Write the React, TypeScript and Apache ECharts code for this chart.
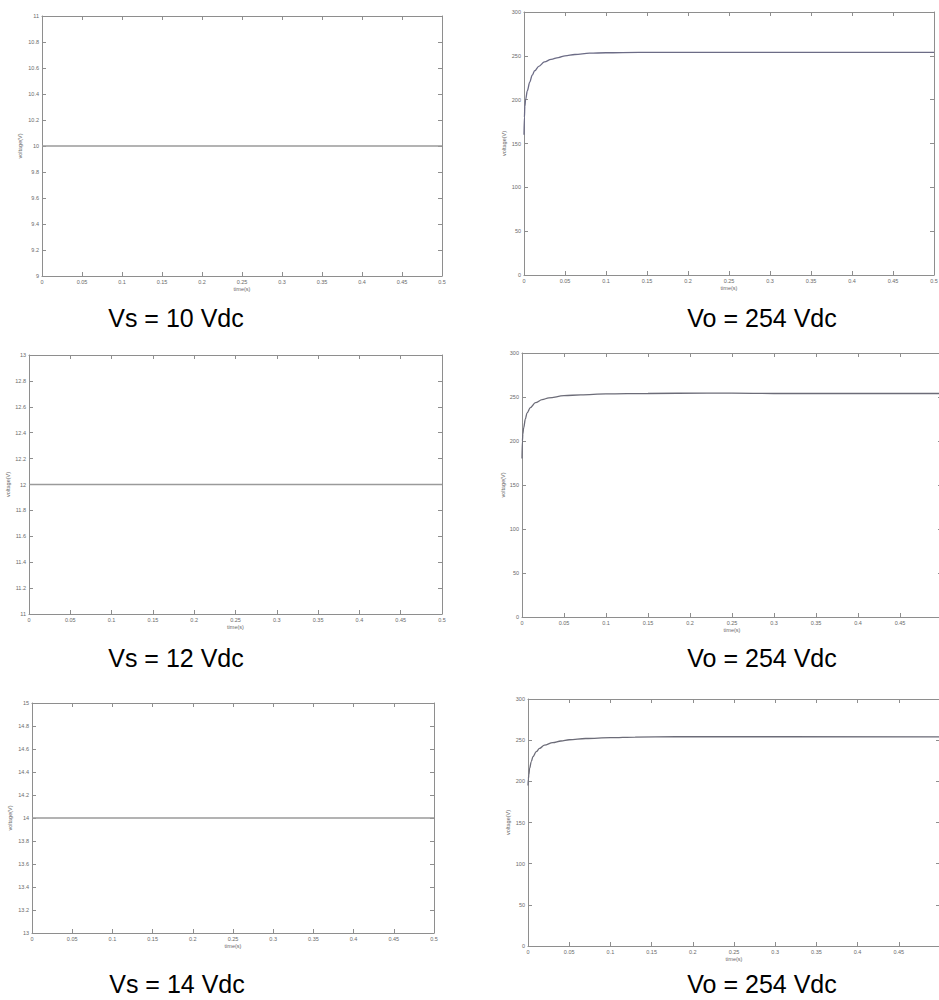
import React, { useEffect, useRef } from "react";
import * as echarts from "echarts";

// ---------- data ----------
const flatTime = [0, 0.5];
const vs10 = [10, 10];
const vs12 = [12, 12];
const vs14 = [14, 14];

const voTime1 = [0, 0.0005, 0.001, 0.002, 0.004, 0.007, 0.01, 0.013, 0.018, 0.025, 0.033, 0.042, 0.05, 0.062, 0.08, 0.1, 0.14, 0.5];
const vo1 = [160, 180, 192, 200, 210, 220, 228, 233, 238, 243, 246, 248, 250, 251.5, 253, 253.5, 254, 254];

const voTime2 = [0, 0.0005, 0.001, 0.002, 0.004, 0.006, 0.01, 0.016, 0.024, 0.032, 0.05, 0.07, 0.1, 0.15, 0.22, 0.25, 0.3, 0.5];
const vo2 = [180, 200, 208, 215, 225, 232, 238, 243.5, 247, 249, 251.5, 252.5, 253.5, 254, 254.5, 254.3, 254, 254];

const voTime3 = [0, 0.0005, 0.001, 0.002, 0.004, 0.006, 0.01, 0.014, 0.02, 0.03, 0.04, 0.05, 0.07, 0.1, 0.13, 0.18, 0.5];
const vo3 = [195, 203, 208, 216, 224, 230, 236, 240, 244, 247, 249, 250.5, 252, 253, 253.8, 254.2, 254];

const captions = ["Vs = 10 Vdc", "Vo = 254 Vdc", "Vs = 12 Vdc", "Vo = 254 Vdc", "Vs = 14 Vdc", "Vo = 254 Vdc"];
const xLabelName = "time(s)";
const yLabelName = "voltage(V)";

// ---------- layout ----------
const panels = [
  { left: 42, top: 16, width: 400, height: 260, min: 9, max: 11, interval: 0.2, yGap: 19, xGap: 8, t: flatTime, v: vs10, cx: 176, cy: 318, color: "#9a9a9a", lw: 1.6, maxLabel: true },
  { left: 524, top: 12, width: 410, height: 263, min: 0, max: 300, interval: 50, yGap: 17, xGap: 9, t: voTime1, v: vo1, cx: 762, cy: 318, color: "#6c6c86", lw: 1.3, maxLabel: true },
  { left: 29, top: 355, width: 413, height: 259, min: 11, max: 13, interval: 0.2, yGap: 17, xGap: 9, t: flatTime, v: vs12, cx: 176, cy: 658, color: "#9a9a9a", lw: 1.6, maxLabel: true },
  { left: 522, top: 353, width: 420, height: 264, min: 0, max: 300, interval: 50, yGap: 15, xGap: 10, t: voTime2, v: vo2, cx: 762, cy: 658, color: "#6c6c78", lw: 1.3, maxLabel: false },
  { left: 32, top: 703, width: 402, height: 230, min: 13, max: 15, interval: 0.2, yGap: 19, xGap: 9, t: flatTime, v: vs14, cx: 177, cy: 984, color: "#9a9a9a", lw: 1.6, maxLabel: true },
  { left: 528, top: 699, width: 412, height: 247, min: 0, max: 300, interval: 50, yGap: 17, xGap: 9, t: voTime3, v: vo3, cx: 762, cy: 984, color: "#6c6c78", lw: 1.3, maxLabel: false },
];

const FONT = "'Liberation Sans', Arial, sans-serif";
const BOX = "#8e8e8e";
const LABEL = "#6a6a6a";

function buildOption() {
  const grid: any[] = [];
  const xAxis: any[] = [];
  const yAxis: any[] = [];
  const series: any[] = [];
  const graphic: any[] = [];

  panels.forEach((p, i) => {
    grid.push({ left: p.left, top: p.top, width: p.width, height: p.height, containLabel: false });
    const tickCommon = { show: true, inside: true, length: 4, lineStyle: { color: BOX, width: 1 } };
    xAxis.push({
      type: "value", gridIndex: i, position: "bottom", min: 0, max: 0.5, interval: 0.05,
      axisLine: { show: true, onZero: false, lineStyle: { color: BOX, width: 1 } },
      axisTick: tickCommon,
      axisLabel: { show: true, fontSize: 5.5, color: LABEL, margin: 3, fontFamily: FONT, hideOverlap: false, showMinLabel: true, showMaxLabel: p.maxLabel },
      splitLine: { show: false },
      name: xLabelName, nameLocation: "middle", nameGap: p.xGap,
      nameTextStyle: { fontSize: 5.5, color: LABEL, fontFamily: FONT },
    });
    xAxis.push({
      type: "value", gridIndex: i, position: "top", min: 0, max: 0.5, interval: 0.05,
      axisLine: { show: true, onZero: false, lineStyle: { color: BOX, width: 1 } },
      axisTick: tickCommon,
      axisLabel: { show: false },
      splitLine: { show: false },
    });
    yAxis.push({
      type: "value", gridIndex: i, position: "left", min: p.min, max: p.max, interval: p.interval,
      axisLine: { show: true, onZero: false, lineStyle: { color: BOX, width: 1 } },
      axisTick: tickCommon,
      axisLabel: { show: true, fontSize: 5.5, color: LABEL, margin: 3, fontFamily: FONT, showMinLabel: true, showMaxLabel: true },
      splitLine: { show: false },
      name: yLabelName, nameLocation: "middle", nameGap: p.yGap,
      nameTextStyle: { fontSize: 5.5, color: LABEL, fontFamily: FONT },
    });
    yAxis.push({
      type: "value", gridIndex: i, position: "right", min: p.min, max: p.max, interval: p.interval,
      axisLine: { show: true, onZero: false, lineStyle: { color: BOX, width: 1 } },
      axisTick: tickCommon,
      axisLabel: { show: false },
      splitLine: { show: false },
    });
    series.push({
      type: "line",
      xAxisIndex: 2 * i,
      yAxisIndex: 2 * i,
      data: p.t.map((t, k) => [t, p.v[k]]),
      showSymbol: false,
      symbol: "none",
      smooth: p.t.length > 2 ? 0.35 : false,
      smoothMonotone: "x",
      lineStyle: { color: p.color, width: p.lw },
      silent: true,
    });
    graphic.push({
      type: "text",
      x: p.cx,
      y: p.cy,
      style: {
        text: captions[i],
        fontSize: 25,
        fontFamily: FONT,
        fill: "#000",
        align: "center",
        verticalAlign: "middle",
      },
    });
  });

  return {
    animation: false,
    backgroundColor: "#ffffff",
    grid,
    xAxis,
    yAxis,
    series,
    graphic,
  };
}

export default function App() {
  const ref = useRef<HTMLDivElement>(null);
  useEffect(() => {
    if (!ref.current) return;
    const chart = echarts.init(ref.current, undefined, { renderer: "svg" });
    chart.setOption(buildOption());
    return () => chart.dispose();
  }, []);
  return (
    <div style={{ position: "absolute", left: 0, top: 0, width: 939, height: 1000, overflow: "hidden", background: "#fff" }}>
      <div ref={ref} style={{ width: 960, height: 1000 }} />
    </div>
  );
}
